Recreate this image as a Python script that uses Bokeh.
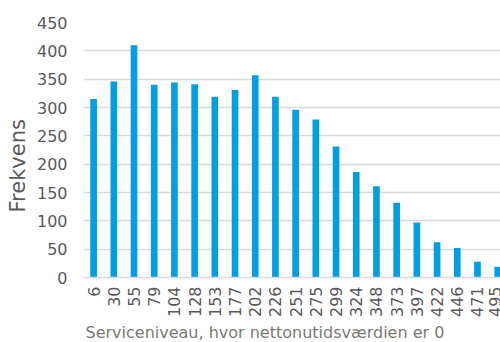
import numpy as np
from bokeh.plotting import figure
from bokeh.models import Range1d, FixedTicker, ColumnDataSource, Title
from bokeh.embed import file_html
from bokeh.resources import INLINE

categories = ["6", "30", "55", "79", "104", "128", "153", "177", "202", "226", "251",
              "275", "299", "324", "348", "373", "397", "422", "446", "471", "495"]
frequency = [315, 346, 410, 340, 344, 341, 319, 331, 357, 319, 296,
             279, 231, 186, 161, 132, 97, 62, 52, 28, 19]
y_ticks = [0, 50, 100, 150, 200, 250, 300, 350, 400, 450]

pos = [i + 0.5 for i in range(len(categories))]
src = ColumnDataSource(dict(x=pos, top=frequency))

p = figure(width=500, height=342, output_backend="svg", toolbar_location=None,
           x_range=Range1d(0, 20.64), y_range=Range1d(0, 450),
           min_border_left=79, min_border_right=0, min_border_top=22, min_border_bottom=0)
p.outline_line_color = None
p.background_fill_color = "white"
p.border_fill_color = "white"

p.vbar(x="x", top="top", width=0.33, source=src, color="#009FE3", line_color=None)

font = "DejaVu Sans"
p.xaxis.ticker = FixedTicker(ticks=pos)
p.xaxis.major_label_overrides = {x: c for x, c in zip(pos, categories)}
p.xaxis.major_label_orientation = np.pi / 2
p.xaxis.axis_line_color = "#d9d9d9"
p.xaxis.axis_line_width = 1.5
p.xaxis.major_tick_line_color = None
p.xaxis.major_tick_out = 0
p.xaxis.major_tick_in = 0
p.xaxis.minor_tick_line_color = None
p.xaxis.major_label_text_font = font
p.xaxis.major_label_text_font_size = "16px"
p.xaxis.major_label_text_color = "#595959"
p.xaxis.major_label_standoff = 9

p.yaxis.ticker = FixedTicker(ticks=y_ticks)
p.yaxis.axis_line_color = None
p.yaxis.major_tick_line_color = None
p.yaxis.major_tick_out = 0
p.yaxis.major_tick_in = 0
p.yaxis.minor_tick_line_color = None
p.yaxis.major_label_text_font = font
p.yaxis.major_label_text_font_size = "16px"
p.yaxis.major_label_text_color = "#595959"
p.yaxis.major_label_standoff = 16

xt = Title(text="Serviceniveau, hvor nettonutidsværdien er 0", align="left", offset=2,
           text_font=font, text_font_style="normal", text_font_size="16px",
           text_color="#7a7a72", standoff=1)
p.add_layout(xt, "below")
yt = Title(text="Frekvens", align="left", offset=65,
           text_font=font, text_font_style="normal", text_font_size="21px",
           text_color="#595959", standoff=7)
p.add_layout(yt, "left")

p.xgrid.grid_line_color = None
p.ygrid.grid_line_color = "#d9d9d9"
p.ygrid.grid_line_width = 1.5

open("out.html", "w").write(file_html(p, INLINE))
